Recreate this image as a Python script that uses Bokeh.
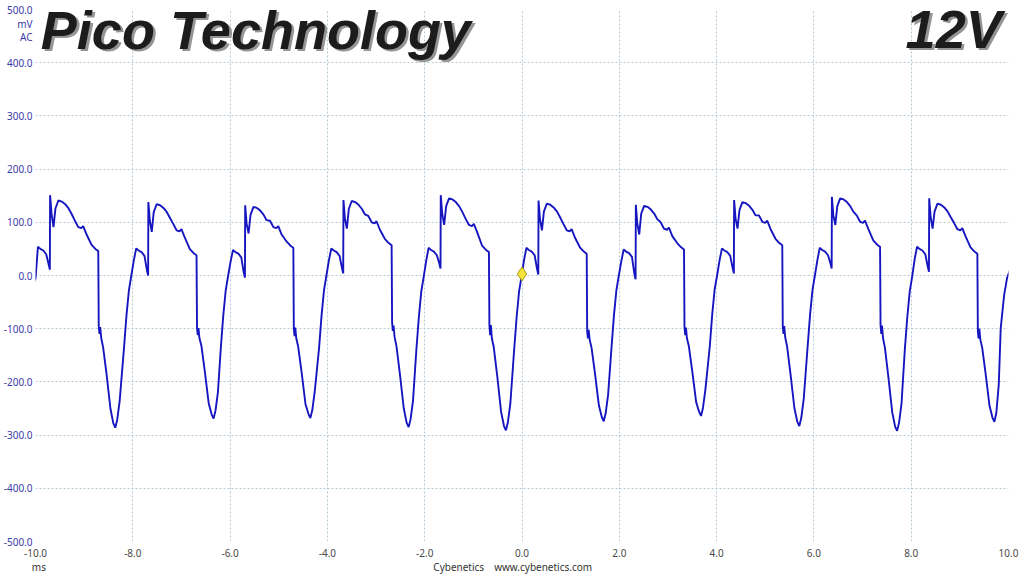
from bokeh.plotting import figure
from bokeh.models import (Range1d, FixedTicker, PrintfTickFormatter, Label,
                          ColumnDataSource, LinearAxis)
from bokeh.embed import file_html
from bokeh.resources import INLINE

# ---- data ----
X_TICKS = [-10, -8, -6, -4, -2, 0, 2, 4, 6, 8, 10]
Y_TICKS = [-500, -400, -300, -200, -100, 0, 100, 200, 300, 400, 500]
Y_UNIT_LABELS = {472: "mV", 448: "AC"}
X_FOOT_LABELS = {-9.93: "ms", -0.19: "Cybenetics\u2003www.cybenetics.com"}

# time (ms) of the sharp upward spike of each cycle
SPIKE_T = [-9.70, -7.68, -5.69, -3.67, -1.67, 0.34, 2.34, 4.36, 6.37, 8.37]
# time offsets (ms) relative to each cycle's spike at which values were read
OFFSETS = [-0.50, -0.45, -0.40, -0.35, -0.30, -0.25, -0.20, -0.14, -0.08, -0.03,
           -0.005, 0.0, 0.03, 0.07, 0.11, 0.17, 0.24, 0.31, 0.38, 0.44,
           0.51, 0.58, 0.64, 0.68, 0.75, 0.85, 0.93, 0.99, 1.00, 1.015,
           1.03, 1.05, 1.09, 1.16, 1.24, 1.30, 1.34, 1.38, 1.43]
# mV values per cycle
CYCLE_A = [-135, -75, -30, -15, -6, 54, 50, 47, 40, 21, 11, 151, 116, 91, 126, 141, 139, 134, 126, 116, 103, 91, 89, 93, 77, 58, 50, 46, -95, -110, -97, -117, -135, -185, -250, -278, -286, -271, -236]
CYCLE_B = [-135, -75, -28, 0, 28, 51, 47, 44, 37, 10, 0, 138, 103, 82, 119, 134, 132, 127, 119, 109, 97, 85, 83, 87, 71, 50, 42, 38, -98, -112, -99, -118, -132, -180, -240, -261, -269, -254, -219]
CYCLE_C = [-135, -75, -28, 0, 26, 48, 44, 41, 34, 6, -4, 132, 97, 79, 114, 129, 127, 122, 114, 104, 103, 91, 89, 93, 77, 64, 56, 52, -100, -114, -98, -118, -134, -182, -242, -260, -268, -253, -218]
CYCLE_D = [-135, -75, -28, 0, 28, 51, 47, 44, 37, 14, 4, 142, 107, 88, 125, 140, 138, 133, 125, 115, 112, 100, 98, 102, 86, 69, 61, 57, -88, -104, -94, -115, -133, -185, -250, -277, -285, -270, -235]
CYCLE_E = [-138, -78, -30, -2, 27, 52, 48, 45, 38, 23, 13, 151, 116, 95, 130, 145, 143, 138, 130, 120, 107, 95, 93, 97, 81, 56, 48, 44, -93, -112, -93, -118, -135, -188, -256, -283, -291, -276, -241]
CYCLE_F = [-138, -78, -30, -2, 28, 52, 48, 45, 38, 12, 2, 141, 106, 85, 120, 135, 133, 128, 120, 110, 97, 85, 83, 87, 71, 53, 45, 41, -105, -118, -102, -120, -136, -184, -244, -266, -274, -259, -224]
CYCLE_G = [-135, -75, -28, 0, 26, 49, 45, 42, 35, 3, -7, 133, 98, 77, 116, 131, 129, 124, 116, 106, 100, 88, 86, 90, 74, 61, 53, 49, -97, -112, -98, -118, -133, -180, -238, -256, -264, -249, -214]
CYCLE_H = [-133, -73, -26, 0, 28, 51, 47, 44, 37, 14, 4, 142, 107, 88, 123, 138, 136, 131, 123, 113, 113, 101, 99, 103, 87, 69, 61, 57, -95, -110, -95, -116, -134, -186, -250, -275, -283, -268, -233]
CYCLE_I = [-135, -75, -28, 0, 28, 52, 48, 45, 38, 23, 13, 148, 113, 95, 130, 145, 143, 138, 130, 120, 113, 101, 99, 103, 87, 66, 58, 54, -93, -110, -94, -117, -136, -190, -257, -284, -292, -277, -242]
CYCLE_J = [-138, -78, -30, -2, 30, 54, 50, 47, 40, 17, 7, 145, 110, 88, 120, 135, 133, 128, 120, 110, 99, 87, 85, 89, 73, 53, 45, 41, -105, -118, -100, -120, -136, -185, -245, -267, -275, -258, -205]
TAIL_T = [9.84, 9.91, 9.97, 10.03]
TAIL_V = [-99, -37, -5, 10]

MARKER_T = [0.0]
MARKER_V = [3]

CYCLES = [CYCLE_A, CYCLE_B, CYCLE_C, CYCLE_D, CYCLE_E,
          CYCLE_F, CYCLE_G, CYCLE_H, CYCLE_I, CYCLE_J]

ts, vs = [], []
for spike, vals in zip(SPIKE_T, CYCLES):
    for off, v in zip(OFFSETS, vals):
        ts.append(round(spike + off, 4))
        vs.append(v)
ts += TAIL_T
vs += TAIL_V

src = ColumnDataSource(data=dict(t=ts, v=vs))

p = figure(width=1024, height=576, output_backend="svg", toolbar_location=None,
           x_range=Range1d(-10, 10), y_range=Range1d(-500, 500),
           min_border_left=32, min_border_right=16, min_border_top=9,
           min_border_bottom=35)
p.outline_line_color = None
p.background_fill_color = "white"
p.border_fill_color = "white"

GRID_COLOR = "#b4c8d6"
for g, tk in ((p.xgrid, X_TICKS), (p.ygrid, Y_TICKS)):
    g.ticker = FixedTicker(ticks=tk)
    g.grid_line_color = GRID_COLOR
    g.grid_line_dash = "2 2"
    g.grid_line_width = 1

# footer axis (second row under the tick labels)
foot = LinearAxis(ticker=FixedTicker(ticks=list(X_FOOT_LABELS.keys())),
                  major_label_overrides=X_FOOT_LABELS)
p.add_layout(foot, "below")

p.xaxis[0].ticker = FixedTicker(ticks=X_TICKS)
p.yaxis[0].ticker = FixedTicker(ticks=Y_TICKS + list(Y_UNIT_LABELS.keys()))
p.yaxis[0].major_label_overrides = Y_UNIT_LABELS

for ax, col, so in ((p.xaxis[0], "#4a4a4a", 7), (foot, "#333333", 0),
                    (p.yaxis[0], "#3c3ca8", 3)):
    ax.formatter = PrintfTickFormatter(format="%.1f")
    ax.axis_line_color = None
    ax.major_tick_line_color = None
    ax.minor_tick_line_color = None
    ax.major_tick_out = 0
    ax.major_tick_in = 0
    ax.major_label_text_font = "Noto Sans"
    ax.major_label_text_font_size = "10px"
    ax.major_label_text_color = col
    ax.major_label_standoff = so

p.line("t", "v", source=src, line_color="#1616c0", line_width=1.9)
p.scatter(MARKER_T, MARKER_V, marker="diamond", size=14,
          fill_color="#f4e43c", line_color="#a89a10", line_width=1)

# titles with shadow
def big(text, x, y, align):
    p.add_layout(Label(x=x + 0.055, y=y - 5.0, text=text, text_font="Liberation Sans",
                       text_font_style="bold italic", text_font_size="54px",
                       text_color="#959595", text_align=align, text_baseline="alphabetic"))
    p.add_layout(Label(x=x, y=y, text=text, text_font="Liberation Sans",
                       text_font_style="bold italic", text_font_size="54px",
                       text_color="#1c1c1c", text_align=align, text_baseline="alphabetic"))

big("Pico Technology", -9.89, 462, "left")
big("12V", 9.86, 464, "right")

open("out.html", "w").write(file_html(p, INLINE))
